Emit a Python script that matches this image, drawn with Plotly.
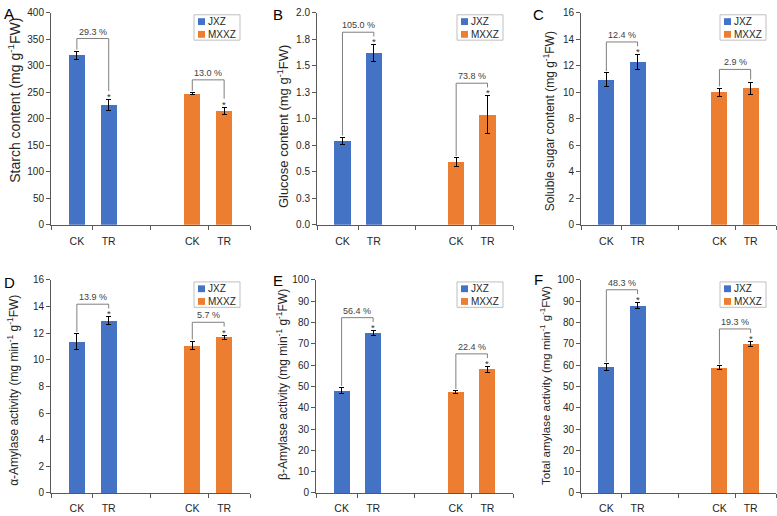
import plotly.graph_objects as go

# ---------------- data ----------------
genotypes = ["JXZ", "MXXZ"]
treatments = ["CK", "TR"]
panel_letters = ["A", "B", "C", "D", "E", "F"]
y_titles = [
    "Starch content (mg g<sup>-1</sup>FW)",
    "Glucose content (mg g<sup>-1</sup>FW)",
    "Soluble sugar content (mg g<sup>-1</sup>FW)",
    "α-Amylase activity (mg min<sup>-1</sup> g<sup>-1</sup>FW)",
    "β-Amylase activity (mg min<sup>-1</sup> g<sup>-1</sup>FW)",
    "Total amylase activity (mg min<sup>-1</sup> g<sup>-1</sup>FW)",
]

starch_jxz = [320, 226]
starch_jxz_err = [7.5, 10.5]
starch_mxxz = [248, 215]
starch_mxxz_err = [1.5, 7.0]

glucose_jxz = [0.79, 1.62]
glucose_jxz_err = [0.037, 0.077]
glucose_mxxz = [0.59, 1.04]
glucose_mxxz_err = [0.043, 0.176]

sugar_jxz = [10.94, 12.29]
sugar_jxz_err = [0.53, 0.55]
sugar_mxxz = [10.0, 10.32]
sugar_mxxz_err = [0.32, 0.45]

alpha_jxz = [11.36, 12.95]
alpha_jxz_err = [0.61, 0.27]
alpha_mxxz = [11.07, 11.68]
alpha_mxxz_err = [0.33, 0.18]

beta_jxz = [48.0, 75.0]
beta_jxz_err = [1.5, 1.3]
beta_mxxz = [47.4, 58.0]
beta_mxxz_err = [0.6, 1.3]

total_jxz = [59.2, 87.9]
total_jxz_err = [1.5, 1.5]
total_mxxz = [58.7, 69.9]
total_mxxz_err = [0.9, 1.1]

pct_jxz = ["29.3 %", "105.0 %", "12.4 %", "13.9 %", "56.4 %", "48.3 %"]
pct_mxxz = ["13.0 %", "73.8 %", "2.9 %", "5.7 %", "22.4 %", "19.3 %"]
sig_jxz = [True, True, True, True, True, True]
sig_mxxz = [True, True, False, True, True, True]

y_max = [400, 2.0, 16, 16, 100, 100]
y_ticks = [
    [0, 50, 100, 150, 200, 250, 300, 350, 400],
    [0, 0.25, 0.5, 0.75, 1.0, 1.25, 1.5, 1.75, 2.0],
    [0, 2, 4, 6, 8, 10, 12, 14, 16],
    [0, 2, 4, 6, 8, 10, 12, 14, 16],
    [0, 10, 20, 30, 40, 50, 60, 70, 80, 90, 100],
    [0, 10, 20, 30, 40, 50, 60, 70, 80, 90, 100],
]
y_ticklabels = [
    ["0", "50", "100", "150", "200", "250", "300", "350", "400"],
    ["0.0", "0.3", "0.5", "0.8", "1.0", "1.3", "1.5", "1.8", "2.0"],
    ["0", "2", "4", "6", "8", "10", "12", "14", "16"],
    ["0", "2", "4", "6", "8", "10", "12", "14", "16"],
    ["0", "10", "20", "30", "40", "50", "60", "70", "80", "90", "100"],
    ["0", "10", "20", "30", "40", "50", "60", "70", "80", "90", "100"],
]

values = [
    (starch_jxz, starch_jxz_err, starch_mxxz, starch_mxxz_err),
    (glucose_jxz, glucose_jxz_err, glucose_mxxz, glucose_mxxz_err),
    (sugar_jxz, sugar_jxz_err, sugar_mxxz, sugar_mxxz_err),
    (alpha_jxz, alpha_jxz_err, alpha_mxxz, alpha_mxxz_err),
    (beta_jxz, beta_jxz_err, beta_mxxz, beta_mxxz_err),
    (total_jxz, total_jxz_err, total_mxxz, total_mxxz_err),
]

# ---------------- style / layout ----------------
W, H = 777, 516
FONT = "Arial, Liberation Sans, sans-serif"
COLORS = ["#4472C4", "#ED7D31"]
AXIS_COLOR = "#595959"
TEXT_COLOR = "#262626"

# pixel boxes of plot areas: (left, right, top, bottom)
boxes = [
    (51, 250, 7, 224), (317, 513, 7, 224), (581, 776, 7, 224),
    (51, 250, 280.5, 498.5), (316, 513, 280.5, 498.5), (581, 776, 280.5, 498.5),
]
title_pos = [(14, 97), (283, 124), (549, 118), (13, 394), (282, 388), (545, 389)]
title_sizes = [14, 13, 12, 12, 12, 11.5]
letter_pos = [(2, 8), (271, 9), (531, 9), (2, 283), (271, 281), (532, 280)]
xlabel_ticklen = [7, 7, 7, 5, 5, 5]

group_centers = [2.1, 7.9]
offset = 0.8
bar_w = 0.82
sep_ticks = [0, group_centers[0], 5, group_centers[1], 10]


def px(x):
    return x / W


def py(y):
    return 1 - y / H


fig = go.Figure()
layout = dict(
    width=W, height=H, margin=dict(l=0, r=0, t=0, b=0),
    paper_bgcolor="white", plot_bgcolor="white",
    showlegend=False, font=dict(family=FONT, color=TEXT_COLOR),
    bargap=0,
)
shapes = []
annotations = []

for i in range(6):
    k = i + 1
    xa = "x" if k == 1 else f"x{k}"
    ya = "y" if k == 1 else f"y{k}"
    l, r, t, b = boxes[i]
    ymax = y_max[i]
    data = values[i]
    tickvals = []
    ticktext = []
    err_tops = []
    for g in range(2):
        vals, errs = data[2 * g], data[2 * g + 1]
        xs = [group_centers[g] - offset, group_centers[g] + offset]
        tickvals += xs
        ticktext += treatments
        err_tops.append([v + e for v, e in zip(vals, errs)])
        fig.add_trace(go.Bar(
            x=xs, y=vals, width=bar_w, name=genotypes[g],
            marker=dict(color=COLORS[g], line=dict(width=0)),
            error_y=dict(type="data", array=errs, color="black", thickness=1, width=2.5),
            xaxis=xa, yaxis=ya, showlegend=False,
        ))
    layout["xaxis" if k == 1 else f"xaxis{k}"] = dict(
        domain=[px(l), px(r)], range=[0, 10], anchor=ya,
        showline=True, linecolor=AXIS_COLOR, linewidth=1,
        showgrid=False, zeroline=False,
        tickmode="array", tickvals=tickvals, ticktext=ticktext,
        ticks="outside", ticklen=xlabel_ticklen[i], tickcolor="rgba(0,0,0,0)",
        tickfont=dict(size=10.5, color=TEXT_COLOR, family=FONT),
        minor=dict(tickmode="array", tickvals=sep_ticks, ticks="outside",
                   ticklen=4, tickwidth=1, tickcolor=AXIS_COLOR, showgrid=False),
        fixedrange=True,
    )
    layout["yaxis" if k == 1 else f"yaxis{k}"] = dict(
        domain=[py(b), py(t)], range=[0, ymax], anchor=xa,
        showline=True, linecolor=AXIS_COLOR, linewidth=1,
        showgrid=False, zeroline=False,
        tickmode="array", tickvals=y_ticks[i], ticktext=y_ticklabels[i],
        ticks="outside", ticklen=4, tickcolor=AXIS_COLOR,
        tickfont=dict(size=10, color=TEXT_COLOR, family=FONT),
        fixedrange=True,
    )
    # y title
    annotations.append(dict(
        text=y_titles[i], x=px(title_pos[i][0]), y=py(title_pos[i][1]),
        xref="paper", yref="paper", textangle=-90, showarrow=False,
        xanchor="center", yanchor="middle",
        font=dict(size=title_sizes[i], color=TEXT_COLOR, family=FONT),
    ))
    # panel letter
    annotations.append(dict(
        text=panel_letters[i], x=px(letter_pos[i][0]), y=py(letter_pos[i][1]),
        xref="paper", yref="paper", showarrow=False,
        xanchor="left", yanchor="middle",
        font=dict(size=15, color="black", family=FONT),
    ))
    # brackets
    pcts = [pct_jxz[i], pct_mxxz[i]]
    sigs = [sig_jxz[i], sig_mxxz[i]]
    for g in range(2):
        x0 = group_centers[g] - offset
        x1 = group_centers[g] + offset
        top_ck, top_tr = err_tops[g]
        ytop = max(top_ck, top_tr) + 0.06 * ymax
        ystart = top_ck + 0.008 * ymax
        yend = top_tr + (0.04 if sigs[g] else 0.012) * ymax
        shapes.append(dict(
            type="path", xref=xa, yref=ya,
            path=f"M {x0},{ystart} L {x0},{ytop} L {x1},{ytop} L {x1},{yend}",
            line=dict(color="#7f7f7f", width=1),
        ))
        annotations.append(dict(
            text=pcts[g], x=(x0 + x1) / 2, y=ytop, xref=xa, yref=ya,
            showarrow=False, xanchor="center", yanchor="bottom", yshift=0,
            font=dict(size=9, color="#404040", family=FONT),
        ))
        if sigs[g]:
            annotations.append(dict(
                text="*", x=x1, y=top_tr, xref=xa, yref=ya,
                showarrow=False, xanchor="center", yanchor="middle", yshift=3,
                font=dict(size=9.5, color="#303030", family=FONT),
            ))
    # legend box (drawn)
    bx0, by0 = r - 56, t + 2
    shapes.append(dict(
        type="rect", xref="paper", yref="paper",
        x0=px(bx0), x1=px(bx0 + 46), y0=py(by0 + 26), y1=py(by0),
        line=dict(color="#bfbfbf", width=1), fillcolor="white",
    ))
    for g in range(2):
        cy = by0 + 7 + 13 * g
        shapes.append(dict(
            type="rect", xref="paper", yref="paper",
            x0=px(bx0 + 4), x1=px(bx0 + 11), y0=py(cy + 3.5), y1=py(cy - 3.5),
            line=dict(width=0), fillcolor=COLORS[g],
        ))
        annotations.append(dict(
            text=genotypes[g], x=px(bx0 + 12), y=py(cy), xref="paper", yref="paper",
            showarrow=False, xanchor="left", yanchor="middle",
            font=dict(size=10, color=TEXT_COLOR, family=FONT),
        ))

layout["shapes"] = shapes
layout["annotations"] = annotations
fig.update_layout(**layout)
fig.write_html(
    "out.html",
    config={"displayModeBar": False},
    post_script="document.body.style.margin='0';document.body.style.overflow='hidden';",
)
